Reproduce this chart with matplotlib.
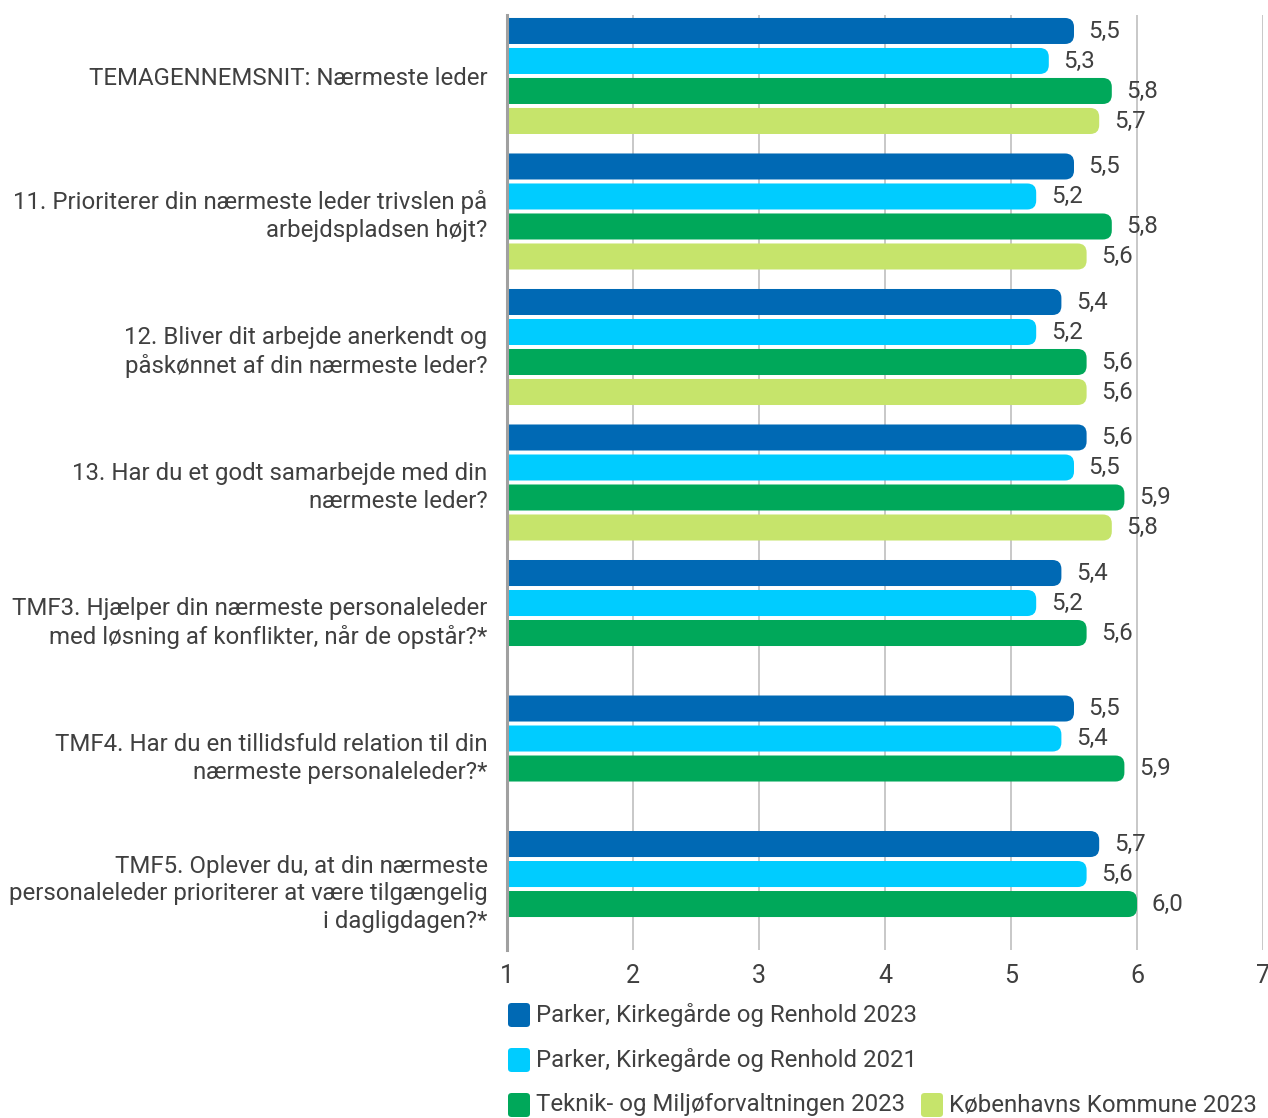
import matplotlib
matplotlib.use("Agg")
import matplotlib.pyplot as plt
from matplotlib.patches import FancyBboxPatch
import numpy as np

plt.rcParams['font.family'] = ['Roboto', 'DejaVu Sans']

categories = [
    "TEMAGENNEMSNIT: Nærmeste leder",
    "11. Prioriterer din nærmeste leder trivslen på\narbejdspladsen højt?",
    "12. Bliver dit arbejde anerkendt og\npåskønnet af din nærmeste leder?",
    "13. Har du et godt samarbejde med din\nnærmeste leder?",
    "TMF3. Hjælper din nærmeste personaleleder\nmed løsning af konflikter, når de opstår?*",
    "TMF4. Har du en tillidsfuld relation til din\nnærmeste personaleleder?*",
    "TMF5. Oplever du, at din nærmeste\npersonaleleder prioriterer at være tilgængelig\ni dagligdagen?*",
]
series_names = [
    "Parker, Kirkegårde og Renhold 2023",
    "Parker, Kirkegårde og Renhold 2021",
    "Teknik- og Miljøforvaltningen 2023",
    "Københavns Kommune 2023",
]
prk_2023 = [5.5, 5.5, 5.4, 5.6, 5.4, 5.5, 5.7]
prk_2021 = [5.3, 5.2, 5.2, 5.5, 5.2, 5.4, 5.6]
tmf_2023 = [5.8, 5.8, 5.6, 5.9, 5.6, 5.9, 6.0]
kk_2023 = [5.7, 5.6, 5.6, 5.8, None, None, None]
x_ticks = [1, 2, 3, 4, 5, 6, 7]

colors = ["#0069B4", "#00CCFF", "#00A85A", "#C6E46B"]
text_color = "#404040"
fs = 17.3

W, H = 1268, 1118
fig = plt.figure(figsize=(W / 100, H / 100), dpi=100)
ax_left, ax_right, ax_top, ax_bot = 507, 1263, 15, 950
ax = fig.add_axes([ax_left / W, 1 - ax_bot / H, (ax_right - ax_left) / W, (ax_bot - ax_top) / H])

n = len(categories)
ax.set_xlim(1, 7)
ax.set_ylim(n - 1 + 0.45, -0.45)

pitch = 0.2214
bh = 0.192
px_x = (ax_right - ax_left) / 6.0
px_y = (ax_bot - ax_top) / (n - 1 + 0.9)
r_px = 9
rx = r_px / px_x
asp = (1 / px_y) / (1 / px_x)

all_series = [prk_2023, prk_2021, tmf_2023, kk_2023]
yc = np.arange(n)
for si, (vals, col) in enumerate(zip(all_series, colors)):
    offs = (si - 1.5) * pitch
    for ci, v in enumerate(vals):
        if v is None:
            continue
        bars = ax.barh(yc[ci] + offs, v - 1, left=1, height=bh, color=col)
        for rect in bars:
            x0, y0 = rect.get_x(), rect.get_y()
            w, h = rect.get_width(), rect.get_height()
            rect.remove()
            p = FancyBboxPatch((x0 - 0.2, y0), w + 0.2, h,
                               boxstyle=f"round,pad=0,rounding_size={rx}",
                               mutation_aspect=asp, facecolor=col, edgecolor='none',
                               zorder=2)
            ax.add_patch(p)
        ax.annotate(f"{v:.1f}".replace(".", ","), xy=(v, yc[ci] + offs),
                    xytext=(10.5, 0), textcoords="offset points",
                    ha="left", va="center", fontsize=fs, color=text_color, zorder=3)

ax.set_xticks(x_ticks)
ax.set_xticklabels([str(t) for t in x_ticks], fontsize=18, color=text_color)
ax.set_yticks(yc)
ax.set_yticklabels(categories, fontsize=fs, color=text_color, linespacing=1.27)
ax.tick_params(axis='both', length=0)
ax.tick_params(axis='x', pad=10)
ax.tick_params(axis='y', pad=14)
ax.grid(axis='x', color='#c8c8c8', lw=1.4, zorder=0)
ax.set_axisbelow(True)
for s in ['top', 'right', 'bottom']:
    ax.spines[s].set_visible(False)
ax.spines['left'].set_color('#a0a0a0')
ax.spines['left'].set_linewidth(2.2)
ax.spines['left'].set_zorder(4)

# legend
legend_items = [
    (508, 1015, 0), (508, 1060, 1), (508, 1105, 2), (921, 1105, 3)
]
for lx, ly, si in legend_items:
    sq = FancyBboxPatch((lx / W, 1 - (ly + 12) / H), 22 / W, 24 / H,
                        boxstyle="round,pad=0,rounding_size=0.003",
                        transform=fig.transFigure, facecolor=colors[si], edgecolor='none')
    fig.add_artist(sq)
    fig.text((lx + 28) / W, 1 - ly / H, series_names[si], fontsize=fs,
             color=text_color, ha='left', va='center')

fig.savefig("out.png", dpi=100)
